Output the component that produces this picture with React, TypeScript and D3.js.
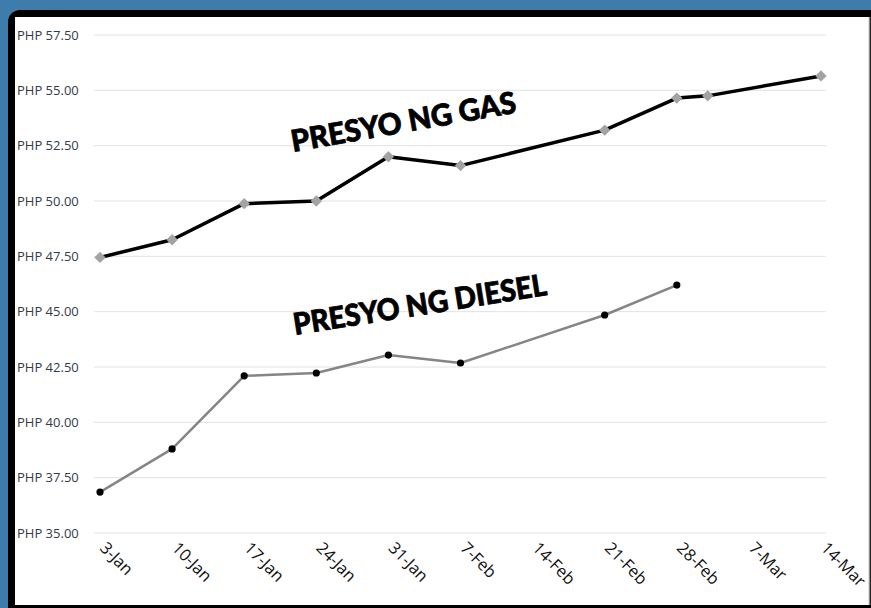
import { useMemo } from "react";
import * as d3 from "d3";

const yTicks = [35, 37.5, 40, 42.5, 45, 47.5, 50, 52.5, 55, 57.5];
const xTickDates = ["2022-01-03", "2022-01-10", "2022-01-17", "2022-01-24", "2022-01-31", "2022-02-07", "2022-02-14", "2022-02-21", "2022-02-28", "2022-03-07", "2022-03-14"];

const gasDates = ["2022-01-03", "2022-01-10", "2022-01-17", "2022-01-24", "2022-01-31", "2022-02-07", "2022-02-21", "2022-02-28", "2022-03-03", "2022-03-14"];
const gasValues = [47.45, 48.25, 49.88, 50.0, 52.0, 51.6, 53.2, 54.65, 54.75, 55.65];

const dieselDates = ["2022-01-03", "2022-01-10", "2022-01-17", "2022-01-24", "2022-01-31", "2022-02-07", "2022-02-21", "2022-02-28"];
const dieselValues = [36.85, 38.8, 42.1, 42.23, 43.04, 42.68, 44.85, 46.2];

const parse = d3.timeParse("%Y-%m-%d");
const fmt = d3.timeFormat("%-d-%b");

export default function App() {
  const width = 871;
  const height = 608;

  const x = d3.scaleTime().domain([parse("2022-01-03")!, parse("2022-03-14")!]).range([100, 821]);
  const y = d3.scaleLinear().domain([35, 57.5]).range([533, 35]);

  const gas = useMemo(() => gasDates.map((d, i) => ({ date: parse(d)!, value: gasValues[i] })), []);
  const diesel = useMemo(() => dieselDates.map((d, i) => ({ date: parse(d)!, value: dieselValues[i] })), []);

  const line = d3
    .line<{ date: Date; value: number }>()
    .x((d) => x(d.date))
    .y((d) => y(d.value));

  const labelFont = "'Open Sans', 'Liberation Sans', sans-serif";
  const titleFont = "Lato, 'Open Sans', sans-serif";

  return (
    <svg width={width} height={height} style={{ position: "absolute", left: 0, top: 0, display: "block" }}>
      {/* background and frame */}
      <rect x={0} y={0} width={width} height={height} fill="#3e7cac" />
      <rect x={8} y={10} width={920} height={640} rx={12} fill="#000" />
      <rect x={15} y={17} width={854} height={588} fill="#fff" />
      <line x1={869.5} x2={869.5} y1={17} y2={605} stroke="#8a8a8a" strokeWidth={1.5} />

      {/* gridlines + y labels */}
      {yTicks.map((t) => (
        <g key={t}>
          <line x1={94} x2={826} y1={y(t)} y2={y(t)} stroke="#e2e2e2" strokeWidth={1} />
          <text x={17} y={y(t)} dy="0.35em" fontFamily={labelFont} fontSize={13} fill="#333b48">
            PHP {t.toFixed(2)}
          </text>
        </g>
      ))}

      {/* x labels */}
      {xTickDates.map((d) => {
        const px = x(parse(d)!);
        return (
          <text
            key={d}
            transform={`translate(${px - 1},${549}) rotate(45)`}
            fontFamily={labelFont}
            fontSize={16.5}
            fill="#111"
          >
            {fmt(parse(d)!)}
          </text>
        );
      })}

      {/* gas series */}
      <path d={line(gas) ?? ""} fill="none" stroke="#000" strokeWidth={3.5} strokeLinejoin="round" />
      {gas.map((d, i) => (
        <rect
          key={i}
          x={-4}
          y={-4}
          width={8}
          height={8}
          fill="#a3a3a3"
          transform={`translate(${x(d.date)},${y(d.value)}) rotate(45)`}
        />
      ))}

      {/* diesel series */}
      <path d={line(diesel) ?? ""} fill="none" stroke="#858585" strokeWidth={2.5} strokeLinejoin="round" />
      {diesel.map((d, i) => (
        <circle key={i} cx={x(d.date)} cy={y(d.value)} r={3.6} fill="#000" />
      ))}

      {/* annotations */}
      <text
        transform="translate(293,152) rotate(-10)"
        fontFamily={titleFont}
        fontWeight={900}
        fontSize={30}
        fill="#000"
        stroke="#000"
        strokeWidth={0.8}
        textLength={228}
        lengthAdjust="spacingAndGlyphs"
      >
        PRESYO NG GAS
      </text>
      <text
        transform="translate(295,335) rotate(-9)"
        fontFamily={titleFont}
        fontWeight={900}
        fontSize={30}
        fill="#000"
        stroke="#000"
        strokeWidth={0.8}
        textLength={256}
        lengthAdjust="spacingAndGlyphs"
      >
        PRESYO NG DIESEL
      </text>
    </svg>
  );
}
